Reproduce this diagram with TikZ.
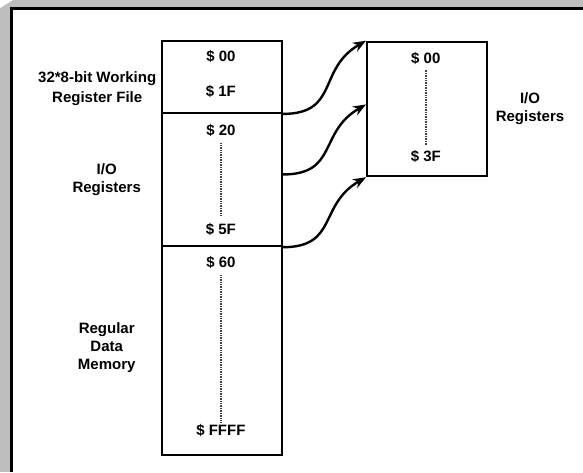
\documentclass[tikz,border=0pt]{standalone}
\usepackage{fontspec}
\setmainfont{Liberation Sans}
\usetikzlibrary{arrows.meta}
\definecolor{framegray}{RGB}{190,190,190}
\begin{document}
\begin{tikzpicture}[x=1pt,y=-1pt,
  lbl/.style={font=\fontsize{15}{17.8}\selectfont\bfseries, align=center, inner sep=0},
  membox/.style={draw, line width=2.2pt, minimum width=119.7pt, inner sep=0, anchor=north west},
  dots/.style={line width=1.5pt, dash pattern=on 1pt off 0.7pt, black!75},
  conn/.style={line width=2.4pt, -{Stealth[length=13pt,width=10pt]}}]
\useasboundingbox (0,0) rectangle (583,472);
\fill[white] (0,0) rectangle (583,472);
\fill[framegray] (0,0) rectangle (583,8);
\fill[framegray] (0,0) rectangle (10,472);
\fill[white] (0,0) -- (13,0) -- (0,8) -- cycle;
\fill[black] (10,7.3) rectangle (583,10);
\fill[black] (9.5,7.3) rectangle (12.7,472);

\node[membox, minimum height=71.7pt] (reg) at (161,40) {};
\node[membox, minimum height=133.3pt] (io) at (161,111.7) {};
\node[membox, minimum height=209pt] (mem) at (161,245) {};
\node[membox, minimum height=134.3pt] (ext) at (366,40.7) {};

\node[lbl] (a00) at (220.9,56.7) {\$ 00};
\node[lbl] (a1f) at (220.9,91.7) {\$ 1F};
\node[lbl] (a20) at (220.9,130) {\$ 20};
\node[lbl] (a5f) at (220.9,229) {\$ 5F};
\node[lbl] (a60) at (220.9,262) {\$ 60};
\node[lbl] (affff) at (220.9,430) {\$ FFFF};
\node[lbl] (b00) at (425.8,58.3) {\$ 00};
\node[lbl] (b3f) at (425.8,156.7) {\$ 3F};

\draw[dots, shorten <=7pt, shorten >=7pt] (a20) -- (a5f);
\draw[dots, shorten <=7pt, shorten >=2pt] (a60) -- (affff);
\draw[dots, shorten <=5pt, shorten >=5pt] (b00) -- (b3f);

\node[lbl, font=\fontsize{15}{19.7}\selectfont\bfseries] (wrf) at (97.2,88.6) {32*8-bit Working\\Register File};
\node[lbl] (iol) at (106.7,180) {I/O\\Registers};
\node[lbl] (rdm) at (106.7,347.7) {Regular\\Data\\Memory};
\node[lbl] (ior) at (530,108.7) {I/O\\Registers};

\draw[conn] (reg.south east) to[out=0,in=210,looseness=1.3] (ext.north west);
\draw[conn] ([yshift=5pt]io.east) to[out=0,in=210,looseness=1.3] ([yshift=4.5pt]ext.west);
\draw[conn] (io.south east) to[out=0,in=210,looseness=1.3] (ext.south west);
\end{tikzpicture}
\end{document}
